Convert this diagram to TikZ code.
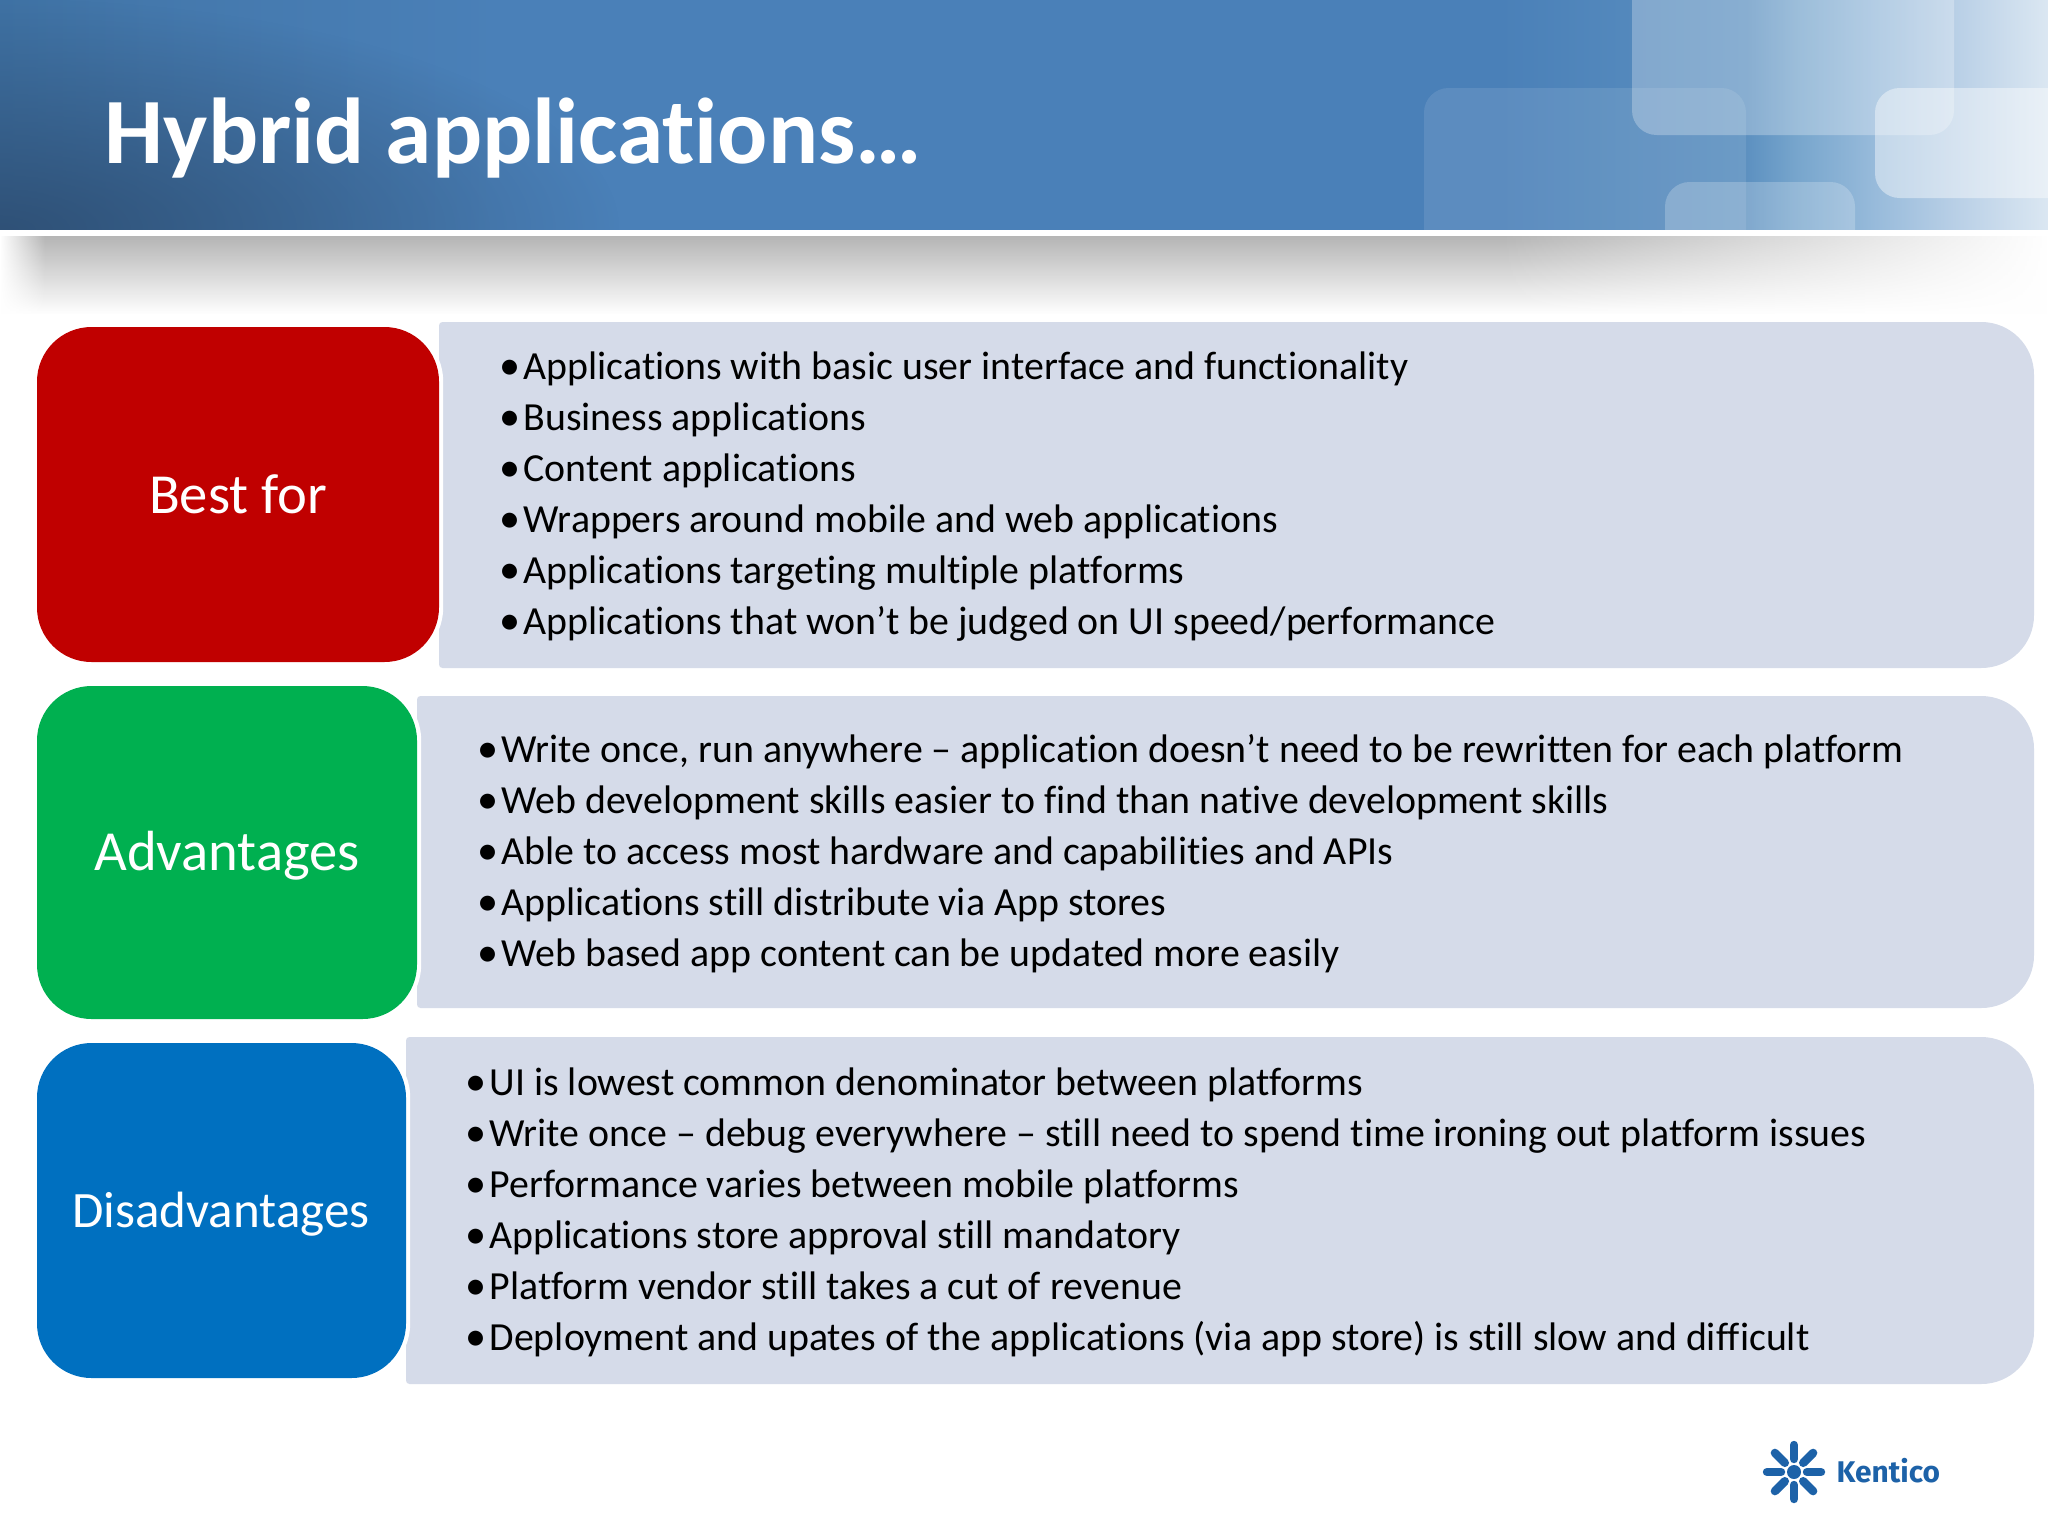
\documentclass[tikz,border=0pt]{standalone}
\usepackage{fontspec}
\setmainfont{Carlito}[Ligatures=NoCommon]
\newfontfamily\logofont{Fira Sans}
\usetikzlibrary{fadings}
\definecolor{panelblue}{HTML}{D5DBE9}
\definecolor{bestred}{HTML}{C00000}
\definecolor{advgreen}{HTML}{00B050}
\definecolor{disblue}{HTML}{0070C0}
\definecolor{logoblue}{HTML}{1D62A8}
\definecolor{HB0}{HTML}{3F72A4}
\definecolor{HB1}{HTML}{4478AC}
\definecolor{HB2}{HTML}{4A80B8}
\definecolor{HB3}{HTML}{5C90C0}
\definecolor{HB4}{HTML}{78A6CD}
\definecolor{HB5}{HTML}{98BBDB}
\definecolor{HB6}{HTML}{B8CFE6}
\definecolor{HB7}{HTML}{DBE7F2}
\definecolor{cornerblue}{HTML}{2F5177}
\pgfdeclarehorizontalshading{headband}{100bp}{
  color(0bp)=(HB0);
  color(25bp)=(HB0);
  color(28.7bp)=(HB1);
  color(37.2bp)=(HB2);
  color(61.6bp)=(HB2);
  color(67.6bp)=(HB3);
  color(68.9bp)=(HB4);
  color(70.8bp)=(HB5);
  color(72.7bp)=(HB6);
  color(75bp)=(HB7);
  color(100bp)=(HB7)}
\tikzfading[name=cornerglow,inner color=transparent!0,outer color=transparent!100]
\tikzset{
  sidebox/.style={preaction={draw=white,line width=2.4pt},rounded corners=15.5pt},
  panel/.style={fill=panelblue},
  sidelabel/.style={text=white,font=\fontsize{16.1}{20}\selectfont,inner sep=0pt},
  item/.style={anchor=base west,inner sep=0pt,text=black,font=\fontsize{11.33}{14}\selectfont},
  glass/.style={fill=white,rounded corners=7pt},
  spoke/.style={line width=2.4pt,line cap=round,logoblue}
}
\newcommand{\bul}{\makebox[6.8pt][l]{\large\textbullet}}
\begin{document}
\begin{tikzpicture}[x=0.01cm,y=-0.01cm]
\useasboundingbox (0,0) rectangle (2048,1536);
\fill[white] (0,0) rectangle (2048,1536);
% header
\fill[shading=headband] (0,0) rectangle (2048,229);
\begin{scope}
\clip (0,0) rectangle (2048,229);
\fill[cornerblue,path fading=cornerglow] (0,229) ellipse (620 and 230);
\fill[glass,opacity=.1] (1424,88) rectangle (1746,300);
\fill[glass,opacity=.27] (1632,-60) rectangle (1954,135);
\fill[glass,opacity=.22] (1665,182) rectangle (1855,300);
\fill[glass,opacity=.42] (1875,88) rectangle (2120,198);
\end{scope}
% shadow under the band
\fill[black!29,path fading=south] (0,236) rectangle (2048,314);
\fill[white,path fading=east] (0,236) rectangle (45,314);
\fill[white,path fading=west] (1500,236) rectangle (2048,314);
\node[text=white,anchor=base west,inner sep=0pt,font=\fontsize{26.6}{32}\selectfont\bfseries] (title) at (104,163) {Hybrid applications\dots};
% best for
\fill[panel] (439,322) [rounded corners=15pt] -- (2034,322) -- (2034,668) [rounded corners=1pt] -- (439,668) -- cycle;
\fill[sidebox,bestred] (37,327) rectangle (439,662);
\node[sidelabel] (best) at (238,494) {Best for};
\node[item] (best1) at (499,379) {\bul Applications with basic user interface and functionality};
\node[item] (best2) at (499,430) {\bul Business applications};
\node[item] (best3) at (499,481) {\bul Content applications};
\node[item] (best4) at (499,532) {\bul Wrappers around mobile and web applications};
\node[item] (best5) at (499,583) {\bul Applications targeting multiple platforms};
\node[item] (best6) at (499,634) {\bul Applications that won’t be judged on UI speed/performance};
% advantages
\fill[panel] (417,696) [rounded corners=15pt] -- (2034,696) -- (2034,1008) [rounded corners=1pt] -- (417,1008) -- cycle;
\fill[sidebox,advgreen] (37,686) rectangle (417,1019);
\node[sidelabel] (adv) at (227,856) {Advantages};
\node[item] (adv1) at (477,762) {\bul Write once, run anywhere – application doesn’t need to be rewritten for each platform};
\node[item] (adv2) at (477,813) {\bul Web development skills easier to find than native development skills};
\node[item] (adv3) at (477,864) {\bul Able to access most hardware and capabilities and APIs};
\node[item] (adv4) at (477,915) {\bul Applications still distribute via App stores};
\node[item] (adv5) at (477,966) {\bul Web based app content can be updated more easily};
% disadvantages
\fill[panel] (406,1037) [rounded corners=15pt] -- (2034,1037) -- (2034,1384) [rounded corners=1pt] -- (406,1384) -- cycle;
\fill[sidebox,disblue] (37,1043) rectangle (406,1378);
\node[sidelabel,font=\fontsize{14.5}{18}\selectfont] (dis) at (221,1214) {Disadvantages};
\node[item] (dis1) at (465,1095) {\bul UI is lowest common denominator between platforms};
\node[item] (dis2) at (465,1146) {\bul Write once – debug everywhere – still need to spend time ironing out platform issues};
\node[item] (dis3) at (465,1197) {\bul Performance varies between mobile platforms};
\node[item] (dis4) at (465,1248) {\bul Applications store approval still mandatory};
\node[item] (dis5) at (465,1299) {\bul Platform vendor still takes a cut of revenue};
\node[item] (dis6) at (465,1350) {\bul Deployment and upates of the applications (via app store) is still slow and difficult};
% logo
\coordinate (hub) at (1794,1472);
\fill[logoblue] (hub) circle (7);
\foreach \ang in {0,45,...,315}
  \draw[spoke] ([shift={(\ang:13)}]hub) -- ([shift={(\ang:27)}]hub);
\node[text=logoblue,anchor=base west,inner sep=0pt,font=\logofont\bfseries\fontsize{8.5}{10}\selectfont] (kentico) at (1836,1482) {Kentico};
\end{tikzpicture}
\end{document}
